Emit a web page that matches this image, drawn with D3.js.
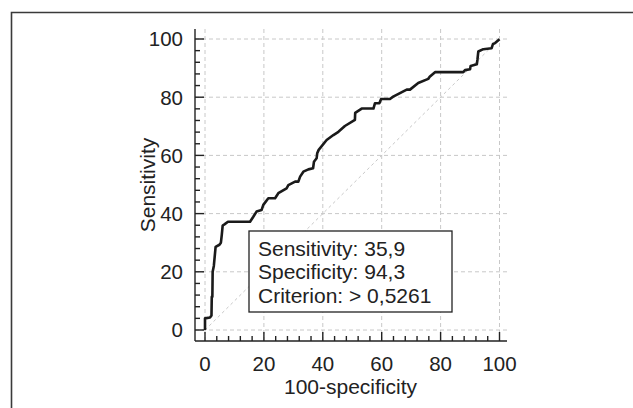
<!DOCTYPE html>
<html><head><meta charset="utf-8">
<script src="https://cdn.jsdelivr.net/npm/d3@7"></script>
<style>body{margin:0;background:#fff}svg{display:block}</style>
</head><body>
<svg id="c" width="633" height="408"></svg>
<script>
const fpr = [0,0,1.7,2.2,2.3,2.5,2.6,3.0,3.6,4.9,5.4,5.7,6.0,6.6,7.8,15.3,16.4,17.5,19.2,19.8,21.5,23.8,24.9,27.7,28.3,30.6,31.7,32.3,33.4,35.1,36.7,37.0,37.9,38.1,38.6,41.3,43.6,45.3,47.5,50.9,51.0,53.2,57.2,57.7,59.2,59.8,62.8,63.9,66.2,68.5,69.6,72.4,75.8,76.3,78.1,87.7,88.3,90.0,90.2,92.3,92.5,92.8,94.5,97.3,97.8,98.5,100];
const tpr = [0,4.0,4.3,5.0,11.4,11.4,20.0,22.0,28.6,29.3,30.0,32.7,35.9,36.3,37.2,37.2,38.9,40.7,41.2,43.0,45.3,45.3,47.0,48.7,49.8,51.0,51.0,52.7,54.4,55.2,55.6,57.8,59.0,60.7,61.9,65.3,67.0,68.1,70.1,72.2,74.6,76.1,76.1,77.9,77.9,79.4,79.4,80.2,81.4,82.6,82.6,84.9,86.3,87.0,88.6,88.6,89.3,89.6,90.7,91.3,92.8,95.7,96.5,96.8,98.3,98.6,99.9];
const majorTicks = [0,20,40,60,80,100];
const minorTicks = d3.range(0,101,4);
const boxLines = ["Sensitivity: 35,9","Specificity: 94,3","Criterion: > 0,5261"];
const xTitle = "100-specificity";
const yTitle = "Sensitivity";

(function(){
const svg = d3.select("#c");
const FONT = "'Liberation Sans', Arial, Helvetica, sans-serif";
const x = d3.scaleLinear().domain([0,100]).range([205,499.5]);
const y = d3.scaleLinear().domain([0,100]).range([330,39]);
const pL = 195, pR = 507, pT = 29, pB = 341;

// outer frame (left + top visible)
svg.append("path").attr("d","M11.5,408 L11.5,12.5 L640,12.5")
  .attr("fill","none").attr("stroke","#3a3a3a").attr("stroke-width",1.6);

// grid
const g = svg.append("g");
g.append("g").selectAll("line").data(majorTicks).join("line")
  .attr("x1",d=>x(d)).attr("x2",d=>x(d)).attr("y1",pT).attr("y2",pB)
  .attr("stroke","#c8c8c8").attr("stroke-width",1).attr("stroke-dasharray","4,3");
g.append("g").selectAll("line").data(majorTicks).join("line")
  .attr("x1",pL).attr("x2",pR).attr("y1",d=>y(d)).attr("y2",d=>y(d))
  .attr("stroke","#c8c8c8").attr("stroke-width",1).attr("stroke-dasharray","4,3");

// diagonal
svg.append("line").attr("x1",x(0)).attr("y1",y(0)).attr("x2",x(100)).attr("y2",y(100))
  .attr("stroke","#c8c8c8").attr("stroke-width",1).attr("stroke-dasharray","3,3");

// axes
const ax = svg.append("g").attr("stroke","#222").attr("stroke-width",1.4);
ax.append("line").attr("x1",pL).attr("x2",pL).attr("y1",pT).attr("y2",pB);
ax.append("line").attr("x1",pL).attr("x2",pR).attr("y1",pB).attr("y2",pB);
ax.append("g").selectAll("line").data(minorTicks).join("line")
  .attr("x1",pL).attr("x2",d=>pL+(d%20===0?9:5)).attr("y1",d=>y(d)).attr("y2",d=>y(d));
ax.append("g").selectAll("line").data(minorTicks).join("line")
  .attr("y1",pB).attr("y2",d=>pB-(d%20===0?9:5)).attr("x1",d=>x(d)).attr("x2",d=>x(d));

// tick labels
svg.append("g").selectAll("text").data(majorTicks).join("text")
  .attr("x",183).attr("y",d=>y(d)).attr("dy","0.36em").attr("text-anchor","end")
  .attr("font-family",FONT).attr("font-size",20.5).attr("fill","#222").text(d=>d);
svg.append("g").selectAll("text").data(majorTicks).join("text")
  .attr("x",d=>x(d)).attr("y",370.7).attr("text-anchor","middle")
  .attr("font-family",FONT).attr("font-size",20.5).attr("fill","#222").text(d=>d);

// titles
svg.append("text").attr("x",(pL+pR)/2-0.5).attr("y",394).attr("text-anchor","middle")
  .attr("font-family",FONT).attr("font-size",21).attr("fill","#222").text(xTitle);
svg.append("text").attr("transform","translate(155,185) rotate(-90)").attr("text-anchor","middle")
  .attr("font-family",FONT).attr("font-size",21).attr("fill","#222").text(yTitle);

// ROC curve
const line = d3.line().x(d=>x(d[0])).y(d=>y(d[1]));
svg.append("path").datum(fpr.map((v,i)=>[v,tpr[i]])).attr("d",line)
  .attr("fill","none").attr("stroke","#1a1a1a").attr("stroke-width",2.6)
  .attr("stroke-linejoin","round");

// info box
svg.append("rect").attr("x",249).attr("y",231).attr("width",203).attr("height",81)
  .attr("fill","#fff").attr("stroke","#222").attr("stroke-width",1.3);
svg.append("g").selectAll("text").data(boxLines).join("text")
  .attr("x",258).attr("y",(d,i)=>256+i*23.4)
  .attr("font-family",FONT).attr("font-size",21).attr("fill","#222").text(d=>d);
})();
</script>
</body></html>
